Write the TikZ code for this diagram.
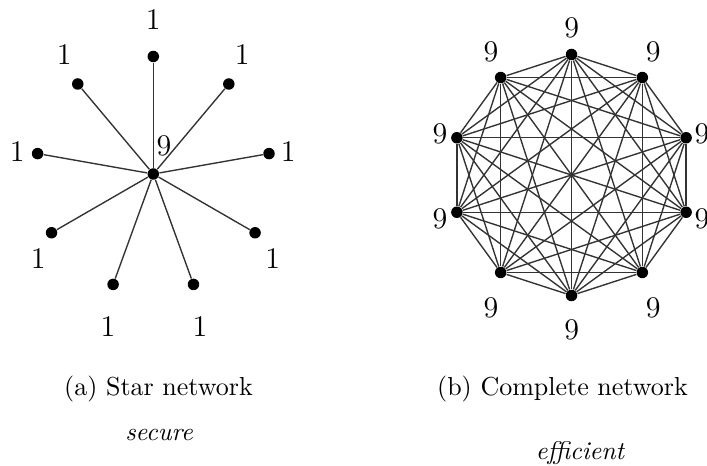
\documentclass[tikz,border=0pt]{standalone}
\usetikzlibrary{calc}
\begin{document}
\begin{tikzpicture}[x=0.4pt,y=-0.4pt,
  dotnode/.style={circle,fill=black,inner sep=0pt,minimum size=4.6pt},
  connline/.style={draw=black!80,line width=0.55pt},
  numlab/.style={inner sep=0pt,font=\fontsize{12}{14}\selectfont},
  captext/.style={anchor=base,inner sep=0pt,font=\fontsize{10.4}{12.5}\selectfont},
  tagtext/.style={anchor=base,inner sep=0pt,font=\fontsize{10.2}{12}\selectfont\itshape}]
\useasboundingbox (0,0) rectangle (707,466);
% ---------- star network ----------
\node[dotnode] (c) at (153.3,174) {};
\foreach \i in {1,...,9} {
  \node[dotnode] (s\i) at ({153.3+117.5*cos(50+40*\i)},{174-117.5*sin(50+40*\i)}) {};
  \draw[connline] (c) -- (s\i);
}
\node[numlab] (lc) at (164,146) {9};
\node[numlab] (l1) at (153.3,20) {1};
\node[numlab] (l2) at (64.3,55) {1};
\node[numlab] (l3) at (242.3,55) {1};
\node[numlab] (l4) at (17.3,151.7) {1};
\node[numlab] (l5) at (288.3,151.7) {1};
\node[numlab] (l6) at (38.3,258.3) {1};
\node[numlab] (l7) at (272.7,258.3) {1};
\node[numlab] (l8) at (108,327) {1};
\node[numlab] (l9) at (200,327) {1};
% ---------- complete network ----------
\foreach \i in {0,...,9} {
  \node[dotnode] (k\i) at ({571.5+120.5*cos(90+36*\i)},{175-120.5*sin(90+36*\i)}) {};
}
\foreach \i in {0,...,8} {
  \pgfmathtruncatemacro\jstart{\i+1}
  \foreach \j in {\jstart,...,9} {
    \draw[connline] (k\i) -- (k\j);
  }
}
\node[numlab] (m0) at (571.7,28.3) {9};
\node[numlab] (m1) at (491,51.7) {9};
\node[numlab] (m9) at (653.3,51.7) {9};
\node[numlab] (m2) at (440,134) {9};
\node[numlab] (m8) at (702,134) {9};
\node[numlab] (m3) at (440,219) {9};
\node[numlab] (m7) at (702,219) {9};
\node[numlab] (m4) at (491,308) {9};
\node[numlab] (m6) at (653.3,308) {9};
\node[numlab] (m5) at (571.7,330) {9};
% ---------- captions ----------
\node[captext] (capa) at (158.5,395) {(a) Star network};
\node[captext] (capb) at (562.5,395) {(b) Complete network};
\node[tagtext] (sec) at (159,440) {secure};
\node[tagtext] (eff) at (580,459) {efficient};
\end{tikzpicture}
\end{document}
